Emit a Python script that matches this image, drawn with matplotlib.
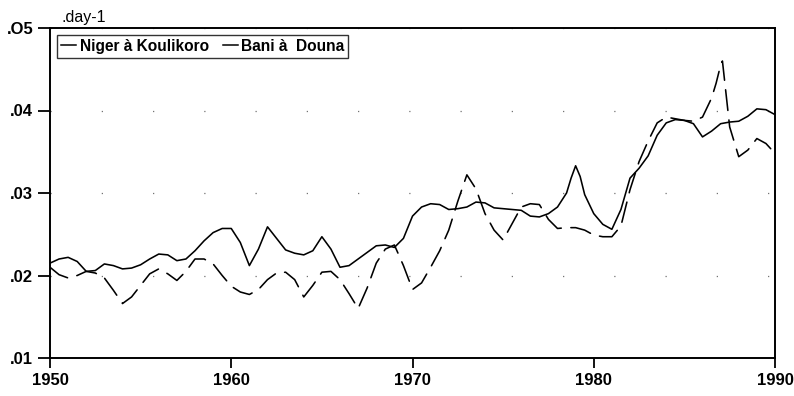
import matplotlib
matplotlib.use("Agg")
import matplotlib.pyplot as plt
from matplotlib.lines import Line2D

plt.rcParams['font.family'] = ['Liberation Sans', 'DejaVu Sans']

# Niger à Koulikoro
niger_years = [1950.0, 1950.5, 1951.0, 1951.5, 1952.0, 1952.5, 1953.0, 1953.5, 1954.0, 1954.5,
               1955.0, 1955.5, 1956.0, 1956.5, 1957.0, 1957.5, 1958.0, 1958.5, 1959.0, 1959.5,
               1960.0, 1960.5, 1961.0, 1961.5, 1962.0, 1962.5, 1963.0, 1963.5, 1964.0, 1964.5,
               1965.0, 1965.5, 1966.0, 1966.5, 1967.0, 1967.5, 1968.0, 1968.5, 1969.0, 1969.5,
               1970.0, 1970.5, 1971.0, 1971.5, 1972.0, 1972.5, 1973.0, 1973.5, 1974.0, 1974.5,
               1975.0, 1975.5, 1976.0, 1976.5, 1977.0, 1977.5, 1978.0, 1978.5, 1978.75, 1979.0,
               1979.25, 1979.5, 1980.0, 1980.5, 1981.0, 1981.5, 1982.0, 1982.5, 1983.0, 1983.5,
               1984.0, 1984.5, 1985.0, 1985.5, 1986.0, 1986.5, 1987.0, 1987.5, 1988.0, 1988.5,
               1989.0, 1989.5, 1990.0]
niger_vals = [.0215, .0220, .0222, .0217, .0205, .0206, .0214, .0212, .0208, .0209,
              .0213, .0220, .0226, .0225, .0218, .0220, .0230, .0242, .0252, .0257,
              .0257, .0240, .0212, .0232, .0259, .0245, .0231, .0227, .0225, .0230,
              .0247, .0232, .0210, .0212, .0220, .0228, .0236, .0237, .0234, .0245,
              .0272, .0283, .0287, .0286, .0280, .0281, .0283, .0289, .0288, .0282,
              .0281, .0280, .0279, .0272, .0271, .0275, .0283, .0300, .0318, .0333,
              .0320, .0298, .0275, .0262, .0256, .0280, .0318, .0330, .0345, .0370,
              .0385, .0389, .0388, .0384, .0368, .0375, .0384, .0386, .0387, .0393,
              .0402, .0401, .0395]

# Bani à Douna
bani_years = [1950.0, 1950.5, 1951.0, 1951.5, 1952.0, 1952.5, 1953.0, 1953.5, 1954.0, 1954.5,
              1955.0, 1955.5, 1956.0, 1956.5, 1957.0, 1957.5, 1958.0, 1958.5, 1959.0, 1959.5,
              1960.0, 1960.5, 1961.0, 1961.5, 1962.0, 1962.5, 1963.0, 1963.5, 1964.0, 1964.5,
              1965.0, 1965.5, 1966.0, 1966.5, 1967.0, 1967.5, 1968.0, 1968.5, 1969.0, 1969.5,
              1970.0, 1970.5, 1971.0, 1971.5, 1972.0, 1972.5, 1973.0, 1973.5, 1974.0, 1974.5,
              1975.0, 1975.5, 1976.0, 1976.5, 1977.0, 1977.5, 1978.0, 1978.5, 1979.0, 1979.5,
              1980.0, 1980.5, 1981.0, 1981.5, 1982.0, 1982.5, 1983.0, 1983.5, 1984.0, 1984.5,
              1985.0, 1985.5, 1986.0, 1986.5, 1986.75, 1987.0, 1987.1, 1987.25, 1987.5, 1988.0,
              1988.5, 1989.0, 1989.5, 1990.0]
bani_vals = [.0210, .0201, .0197, .0200, .0205, .0203, .0197, .0182, .0166, .0174,
             .0188, .0202, .0208, .0202, .0194, .0205, .0220, .0220, .0214, .0200,
             .0187, .0180, .0177, .0183, .0195, .0203, .0204, .0195, .0174, .0188,
             .0204, .0205, .0195, .0178, .0160, .0185, .0215, .0232, .0237, .0212,
             .0183, .0191, .0210, .0230, .0255, .0290, .0322, .0305, .0275, .0255,
             .0243, .0263, .0283, .0287, .0286, .0268, .0257, .0258, .0258, .0255,
             .0249, .0247, .0247, .0260, .0304, .0338, .0363, .0385, .0392, .0390,
             .0388, .0387, .0392, .0415, .0433, .0455, .0460, .0430, .0380, .0344,
             .0352, .0366, .0360, .0348]

x_ticks = [1950, 1960, 1970, 1980, 1990]
y_ticks = [.01, .02, .03, .04, .05]
y_tick_labels = [".01", ".02", ".03", ".04", ".O5"]

fig = plt.figure(figsize=(7.94, 3.96), dpi=100)
ax = fig.add_axes([50 / 794, 1 - 358 / 396, 725 / 794, 330 / 396])

line_kw = dict(color="black", lw=1.15, solid_joinstyle="round",
               dash_joinstyle="round", solid_capstyle="round", dash_capstyle="round")
ax.plot(niger_years, niger_vals, label="Niger à Koulikoro", **line_kw)
ax.plot(bani_years, bani_vals, dashes=(13, 6), label="Bani à  Douna", **line_kw)

ax.set_xlim(1950, 1990)
ax.set_ylim(.01, .05)
ax.set_xticks(x_ticks)
ax.set_yticks(y_ticks)
ax.set_yticklabels(y_tick_labels)

ax.yaxis.grid(True, color="0.45", lw=0.9, dashes=(1, 40))
ax.set_axisbelow(True)

for s in ax.spines.values():
    s.set_linewidth(1.4)
ax.tick_params(axis="both", direction="out", width=1.3, labelsize=12)
ax.tick_params(axis="y", length=9, pad=3)
ax.tick_params(axis="x", length=7, pad=4)
for lab in ax.get_xticklabels() + ax.get_yticklabels():
    lab.set_fontweight("bold")

ax.text(0.016, 1.008, ".day-1", transform=ax.transAxes, fontsize=11.5,
        ha="left", va="bottom")

handles = [Line2D([], [], color="black", lw=1.1),
           Line2D([], [], color="black", lw=1.1)]
leg = ax.legend(handles, ["Niger à Koulikoro", "Bani à  Douna"], loc="upper left",
                ncol=2, frameon=True, fancybox=False, edgecolor="black",
                prop={"weight": "bold", "size": 11.2}, handlelength=1.0,
                handletextpad=0.2, columnspacing=0.9, borderpad=0.25,
                borderaxespad=0.45, bbox_to_anchor=(0.0, 1.0))
leg.get_frame().set_linewidth(1.0)

fig.savefig("out.png", dpi=100)
